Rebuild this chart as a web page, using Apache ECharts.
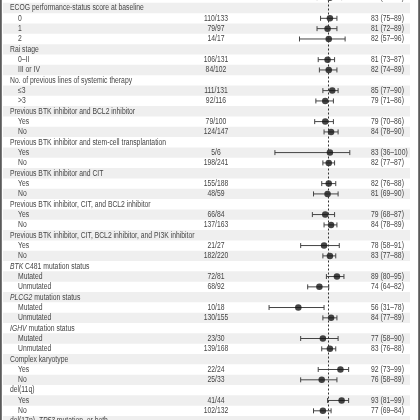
<!DOCTYPE html>
<html>
<head>
<meta charset="utf-8">
<script src="https://cdn.jsdelivr.net/npm/echarts@6/dist/echarts.min.js"></script>
<style>
  html, body { margin: 0; padding: 0; background: #fff; }
  #chart { width: 420px; height: 420px; }
</style>
</head>
<body>
<div id="chart"></div>
<script>
// first row is cut off at the top of the crop, last one at the bottom
var rowLabels = [
  '',
  'ECOG performance-status score at baseline', '0', '1', '2',
  'Rai stage', '0\u2013II', 'III or IV',
  'No. of previous lines of systemic therapy', '\u22643', '>3',
  'Previous BTK inhibitor and BCL2 inhibitor', 'Yes', 'No',
  'Previous BTK inhibitor and stem-cell transplantation', 'Yes', 'No',
  'Previous BTK inhibitor and CIT', 'Yes', 'No',
  'Previous BTK inhibitor, CIT, and BCL2 inhibitor', 'Yes', 'No',
  'Previous BTK inhibitor, CIT, BCL2 inhibitor, and PI3K inhibitor', 'Yes', 'No',
  '{i|BTK} C481 mutation status', 'Mutated', 'Unmutated',
  '{i|PLCG2} mutation status', 'Mutated', 'Unmutated',
  '{i|IGHV} mutation status', 'Mutated', 'Unmutated',
  'Complex karyotype', 'Yes', 'No',
  'del(11q)', 'Yes', 'No',
  'del(17p), {i|TP53} mutation, or both'
];
var counts = [
  '93/112',
  null, '110/133', '79/97', '14/17',
  null, '106/131', '84/102',
  null, '111/131', '92/116',
  null, '79/100', '124/147',
  null, '5/6', '198/241',
  null, '155/188', '48/59',
  null, '66/84', '137/163',
  null, '21/27', '182/220',
  null, '72/81', '68/92',
  null, '10/18', '130/155',
  null, '23/30', '139/168',
  null, '22/24', '25/33',
  null, '41/44', '102/132',
  null
];
var estimates = [
  83,
  null, 83, 81, 82,
  null, 81, 82,
  null, 85, 79,
  null, 79, 84,
  null, 83, 82,
  null, 82, 81,
  null, 79, 84,
  null, 78, 83,
  null, 89, 74,
  null, 56, 84,
  null, 77, 83,
  null, 92, 76,
  null, 93, 77,
  null
];
var lowers = [
  72,
  null, 75, 72, 57,
  null, 73, 74,
  null, 77, 71,
  null, 70, 78,
  null, 36, 77,
  null, 76, 69,
  null, 68, 78,
  null, 58, 77,
  null, 80, 64,
  null, 31, 77,
  null, 58, 76,
  null, 73, 58,
  null, 81, 69,
  null
];
var uppers = [
  93,
  null, 89, 89, 96,
  null, 87, 89,
  null, 90, 86,
  null, 86, 90,
  null, 100, 87,
  null, 88, 90,
  null, 87, 89,
  null, 91, 88,
  null, 95, 82,
  null, 78, 89,
  null, 90, 88,
  null, 99, 89,
  null, 99, 84,
  null
];
var overallEstimate = 82;

var rowIds = rowLabels.map(function (d, i) { return String(i); });
var FONT = '"Liberation Sans", sans-serif';
var SIZE = 8.5;
var SQUEEZE = 0.8; // the source font is narrower than anything installed
var TEXT = '#454545';

var chart = echarts.init(document.getElementById('chart'));

function textEl(str, x, y, align) {
  return {
    type: 'text', x: x, y: y, scaleX: SQUEEZE, scaleY: 1,
    style: {
      text: str, x: 0, y: 0, fill: TEXT, font: SIZE + 'px ' + FONT,
      verticalAlign: 'middle', align: align,
      rich: { i: { fontStyle: 'italic', fontFamily: FONT, fontSize: SIZE, fill: TEXT } }
    }
  };
}

function tableItem(params, api) {
  var i = api.value(0);
  var c = api.coord([0, i]);
  var band = api.size([0, 1])[1];
  var kids = [];
  if (i % 2 === 1) {
    var l = api.coord([3, i])[0], r = api.coord([410, i])[0];
    kids.push({ type: 'rect', shape: { x: l, y: c[1] - band / 2, width: r - l, height: band },
      style: { fill: '#efefef' } });
  }
  var header = counts[i] === null;
  kids.push(textEl(rowLabels[i], api.coord([header ? 10 : 18, i])[0], c[1], 'left'));
  if (!header) {
    kids.push(textEl(counts[i], api.coord([216, i])[0], c[1], 'center'));
    kids.push(textEl(estimates[i] + ' (' + lowers[i] + '\u2013' + uppers[i] + ')',
      api.coord([371, i])[0], c[1], 'left'));
  }
  return { type: 'group', children: kids };
}

function whiskerItem(params, api) {
  var i = api.value(0);
  var a = api.coord([api.value(1), i]);
  var b = api.coord([api.value(2), i]);
  var h = 2.5;
  var st = { stroke: '#444', lineWidth: 1 };
  return { type: 'group', children: [
    { type: 'line', shape: { x1: a[0], y1: a[1], x2: b[0], y2: b[1] }, style: st },
    { type: 'line', shape: { x1: a[0], y1: a[1] - h, x2: a[0], y2: a[1] + h }, style: st },
    { type: 'line', shape: { x1: b[0], y1: b[1] - h, x2: b[0], y2: b[1] + h }, style: st }
  ] };
}

var ciData = [], pointData = [];
rowIds.forEach(function (id, i) {
  if (estimates[i] === null) return;
  ciData.push([i, lowers[i], uppers[i]]);
  pointData.push([estimates[i], i]);
});

chart.setOption({
  animation: false,
  grid: [
    { left: 0, right: 0, top: -7.5, bottom: -6.3, outerBoundsMode: 'none', containLabel: false },
    { left: 232.8, width: 117, top: -7.5, bottom: -6.3, outerBoundsMode: 'none', containLabel: false }
  ],
  xAxis: [
    { gridIndex: 0, type: 'value', min: 0, max: 420, show: false },
    { gridIndex: 1, type: 'value', min: 0, max: 100, show: false }
  ],
  yAxis: [
    { gridIndex: 0, type: 'category', data: rowIds, inverse: true, show: false },
    { gridIndex: 1, type: 'category', data: rowIds, inverse: true, show: false }
  ],
  graphic: [
    { type: 'rect', shape: { x: 0, y: 0, width: 1.8, height: 420 }, style: { fill: '#5a5a5a' } },
    { type: 'rect', shape: { x: 418.2, y: 0, width: 1.8, height: 420 }, style: { fill: '#5a5a5a' } }
  ],
  series: [
    {
      type: 'custom', xAxisIndex: 0, yAxisIndex: 0, z: 1,
      data: rowIds.map(function (d, i) { return [i]; }),
      encode: { y: 0 },
      renderItem: tableItem, silent: true
    },
    {
      type: 'custom', xAxisIndex: 1, yAxisIndex: 1, z: 3,
      data: ciData, encode: { x: [1, 2], y: 0 },
      renderItem: whiskerItem, silent: true
    },
    {
      type: 'scatter', xAxisIndex: 1, yAxisIndex: 1, z: 4,
      data: pointData, symbol: 'circle', symbolSize: 6.5,
      itemStyle: { color: '#151515' }, silent: true,
      markLine: {
        silent: true, symbol: 'none', label: { show: false },
        lineStyle: { color: '#333', type: [2, 2], width: 1 },
        data: [{ xAxis: overallEstimate }]
      }
    }
  ]
});
</script>
</body>
</html>
